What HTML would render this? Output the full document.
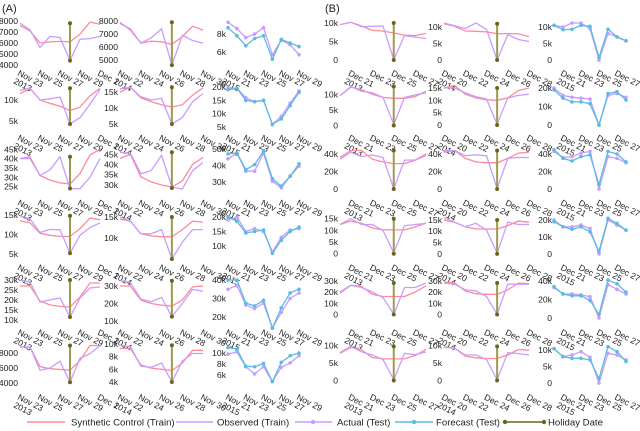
<!DOCTYPE html>
<html><head><meta charset="utf-8">
<style>
html,body{margin:0;padding:0;background:#fff;}
svg{display:block;font-family:"Liberation Sans","DejaVu Sans",sans-serif;}
</style></head>
<body>
<svg id="chart" width="640" height="431" viewBox="0 0 640 431" xmlns="http://www.w3.org/2000/svg">
<text x="2" y="12" font-size="11" fill="#222">(A)</text>
<text x="325" y="12" font-size="11" fill="#222">(B)</text>
<g id="plots"></g>
<g id="legend">
  <g>
    <line x1="27" y1="422" x2="65" y2="422" stroke="#ff8a9a" stroke-width="1.5"/>
    <text x="71" y="425.5" font-size="9.6" fill="#222">Synthetic Control (Train)</text>
  </g>
  <g>
    <line x1="176" y1="422" x2="213" y2="422" stroke="#c99cff" stroke-width="1.5"/>
    <text x="217" y="425.5" font-size="9.6" fill="#222">Observed (Train)</text>
  </g>
  <g>
    <line x1="295" y1="422" x2="332" y2="422" stroke="#c99cff" stroke-width="1.5"/>
    <circle cx="313" cy="422" r="2.2" fill="#c99cff"/>
    <text x="337" y="425.5" font-size="9.6" fill="#222">Actual (Test)</text>
  </g>
  <g>
    <line x1="395" y1="422" x2="433" y2="422" stroke="#5bbbe0" stroke-width="1.5"/>
    <circle cx="414" cy="422" r="2.2" fill="#5bbbe0"/>
    <text x="436" y="425.5" font-size="9.6" fill="#222">Forecast (Test)</text>
  </g>
  <g>
    <line x1="505" y1="422" x2="544" y2="422" stroke="#6b6420" stroke-width="1.5"/>
    <circle cx="505" cy="422" r="2.2" fill="#6b6420"/>
    <circle cx="544" cy="422" r="2.2" fill="#6b6420"/>
    <text x="548" y="425.5" font-size="9.6" fill="#222">Holiday Date</text>
  </g>
</g>
</svg>
<script>
// ---- data: 2 panels x 6 rows x 3 cols; index k = panel*18 + row*3 + col ----
const yLo = [
 3818,4460,4334, 2430,2560,3200, 19700,24300,21150, 3100,4430,4690, 6900,7030,15030, 2930,2580,3090,
 -1890,-2120,-2120, -2040,-2770,-3670, -8690,-8690,-8690, -3300,-3350,-4470, -10400,-10400,-8860, -3040,-3040,-2420];
const yHi = [
 8182,8154,9666, 13860,17560,21200, 45370,47800,50200, 15410,15860,21240, 30900,34450,40970, 9330,10160,11820,
 11080,12420,12420, 13360,16700,22270, 46170,46170,46170, 17270,17900,23900, 32300,32300,43030, 10760,10760,12120];
const yTicks = [
 [4000,5000,6000,7000,8000],[5000,6000,7000,8000],[6000,8000],
 [5000,10000],[5000,10000,15000],[5000,10000,15000,20000],
 [25000,30000,35000,40000,45000],[30000,35000,40000,45000],[30000,40000,50000],
 [5000,10000,15000],[10000,15000],[10000,15000,20000],
 [10000,15000,20000,25000,30000],[10000,20000,30000],[20000,30000,40000],
 [4000,6000,8000],[4000,6000,8000,10000],[6000,8000,10000],
 [0,5000,10000],[0,5000,10000],[0,5000,10000],
 [0,5000,10000],[0,5000,10000,15000],[0,10000,20000],
 [0,20000,40000],[0,20000,40000],[0,20000,40000],
 [0,5000,10000,15000],[0,5000,10000,15000],[0,10000,20000],
 [0,10000,20000,30000],[0,10000,20000,30000],[0,20000,40000],
 [0,5000,10000],[0,5000,10000],[0,5000,10000]];
// series1: synthetic control (cols 0,1) or actual (col 2); series2: observed (cols 0,1) or forecast (col 2)
const series1 = [
 [7600,7100,6000,6100,6150,6100,6800,7900,7700],[7900,7300,6300,6450,6400,6200,6800,7600,7300],[9300,8600,7600,8000,8700,5700,7300,6800,5700],
 [11500,12800,10000,9200,8500,7500,8300,11000,12800],[15000,16500,13200,12000,11000,10300,11000,14000,16300],[19500,19500,16000,14500,15000,6000,9000,14000,18500],
 [40000,41000,31000,28500,27000,26500,32000,42000,45000],[43000,45000,34000,31500,30000,29000,32000,40000,43500],[44000,47500,36500,36500,47500,30500,26500,33500,39500],
 [13500,13000,10300,9800,9500,9500,11500,14200,13800],[14500,14000,11000,10500,10300,10300,12000,14000,13800],[19000,20000,15000,16000,15000,8000,13000,15500,16000],
 [27000,27000,19500,17500,16800,16500,21500,28500,28500],[30000,30000,22000,20000,19000,18500,22000,29500,30000],[35000,37000,26500,24500,27500,14000,22500,30000,33000],
 [8800,8800,6200,5900,5800,5700,7000,9000,9000],[9300,9300,6700,6200,6000,5800,7000,9000,9000],[9800,10200,7500,6200,7500,4800,7400,8200,9500],
 [9500,10200,9200,8000,7800,7300,6700,6600,7200],[11000,10200,8800,8700,8500,8000,8000,7900,7100],[10500,10000,11200,11200,9500,0,8000,7000,5800],
 [9500,12300,11500,10000,9000,8700,8700,9300,11000],[15000,16000,12500,11000,10200,10000,11000,14000,15000],[20000,16000,15000,14500,14000,0,16000,17000,15000],
 [36000,44000,44000,34000,31000,29000,29000,33000,40000],[42000,44000,35000,31000,30000,30000,35000,41000,42000],[43000,36000,37000,41000,43000,0,37000,35000,30000],
 [12500,14000,13000,11000,10200,10200,10200,11500,13200],[15000,14000,12000,11000,11000,11000,12500,14500,14000],[20000,16000,16000,17000,15000,0,20000,17000,14000],
 [20000,26000,25000,18000,16000,16000,16000,20000,25500],[29000,28000,21000,18500,18000,18000,22000,28000,27500],[33000,26000,26000,25000,23000,0,36000,31000,26000],
 [7800,9500,8800,6600,6200,6200,6200,7200,8900],[9500,9300,7000,6500,6300,6300,7300,8900,8700],[10400,8000,8500,9500,7800,0,9000,8500,7000]];
const series2 = [
 [7800,7200,5600,6600,6500,4400,6350,6400,6600],[7800,7400,6300,6700,7400,4600,6900,6500,6300],[8700,7800,6700,7500,7800,5200,7400,7000,6600],
 [12300,12800,10000,10300,10700,4300,5800,9000,12500],[16000,16500,13500,12500,13000,5000,7000,12000,14500],[19000,19500,15000,14500,15000,6000,8000,13000,18000],
 [40000,40000,31000,34000,41000,24000,24000,30000,40000],[46000,45500,35500,37000,44500,29000,28000,37000,41000],[47000,47500,37500,40500,48500,32000,27500,33500,41000],
 [14800,14000,10500,11300,11200,5200,9800,11800,13000],[15000,14000,11000,11000,12000,5000,9000,12000,12000],[20000,18500,14500,15000,15500,7500,12000,15000,16500],
 [30000,29000,19000,20000,21000,11500,21000,26000,26500],[33000,32000,22500,21000,23500,12500,20000,28000,27000],[40000,40000,27500,26000,29000,14000,25000,33000,35000],
 [8800,8800,5700,6000,6900,4100,7300,7900,9000],[9800,9600,6500,6300,7000,4000,7300,8500,8500],[11000,10700,7600,7500,8100,4800,8300,9500,10000],
 [9500,10200,9000,9100,9200,100,6600,6200,5800],[11200,10400,9500,11200,9300,0,7700,6200,5600],[10500,9200,9300,10500,10200,800,9300,7000,5800],
 [9500,12500,11000,10500,9000,300,9000,9800,10500],[15000,15000,13000,11500,10500,300,11000,12000,12500],[19000,14500,12500,12500,11500,0,17000,18000,13500],
 [34000,42000,37000,39000,36000,500,33000,33000,38000],[44000,44000,38000,39000,38000,500,35000,36000,36000],[45000,35000,32000,37000,39000,5000,43000,40000,31000],
 [12500,15000,12500,12500,10000,300,12000,12500,13000],[16000,14000,12000,13500,10500,300,14000,13000,13000],[19000,16000,14500,16000,13000,1500,21000,18000,14000],
 [19000,26000,24000,20000,15000,300,24000,24000,28000],[28000,27000,22000,21000,16000,300,27000,27000,27000],[34000,26000,24000,24000,19000,4000,41000,37000,28000],
 [8000,9800,8200,7300,6000,200,7800,7400,8200],[9600,9200,7300,7300,6000,200,8000,7700,7300],[10400,8000,7500,7500,7000,1300,11000,9500,6500]];
// holiday line value extents (cols 0,1 only)
const holLo = [4400,4600,null, 4300,5000,null, 24000,28500,null, 5200,5000,null, 11500,12500,null, 4100,4000,null,
               0,0,null, 0,0,null, 0,0,null, 0,0,null, 0,0,null, 0,0,null];
const holHi = [7800,7900,null, 12800,16500,null, 41000,46000,null, 14800,15000,null, 30000,33000,null, 9000,9800,null,
               10000,11000,null, 12500,15000,null, 44000,44000,null, 15000,15000,null, 28000,28000,null, 9800,9800,null];
const holidayIndex = 5;
const xLabels = [
 ["Nov 23","","Nov 25","","Nov 27","","Nov 29","","Dec 1"],
 ["Nov 22","","Nov 24","","Nov 26","","Nov 28","","Nov 30"],
 ["Nov 21","","Nov 23","","Nov 25","","Nov 27","","Nov 29"],
 ["","Dec 21","","Dec 23","","Dec 25","","Dec 27",""],
 ["Dec 20","","Dec 22","","Dec 24","","Dec 26","","Dec 28"],
 ["","Dec 21","","Dec 23","","Dec 25","","Dec 27",""]];
const years = ["2013","2014","2015"];

// ---- layout ----
const colX = [[20,100],[120,203],[228,299],[340,426],[444,529],[554,626]];
const NS = "http://www.w3.org/2000/svg";
const root = document.getElementById('plots');
function mk(tag, attrs, parent){ const e=document.createElementNS(NS,tag); for(const k in attrs) e.setAttribute(k,attrs[k]); parent.appendChild(e); return e; }
function fmt(v, k){ const loose=(k===0||k===1||k===15); if(v===0) return "0"; if(loose && v<10000) return String(v); return (v/1000)+"k"; }
const C_PINK="#ff8a9a", C_PURP="#c99cff", C_BLUE="#5bbbe0", C_OLIVE="#9e9a50", C_DOT="#6b6420";
const FS = 8.6, ANG = 27;

for(let p=0;p<2;p++){
 for(let r=0;r<6;r++){
  for(let c=0;c<3;c++){
   const k=p*18+r*3+c;
   const [x0,x1]=colX[p*3+c];
   const top=19+64.8*r, bot=top+48;
   const xs=i=>x0+(x1-x0)*i/8;
   const ys=v=>bot-(v-yLo[k])/(yHi[k]-yLo[k])*(bot-top);
   const g=mk('g',{},root);
   
   
   yTicks[k].forEach(v=>{
     const t=mk('text',{x:x0-2,y:ys(v)+3,'font-size':FS,'text-anchor':'end',fill:'#222'},g);
     
     
     t.textContent=fmt(v,k);
   });
   const labs=xLabels[p*3+c];
   let first=-1;
   labs.forEach((s,i)=>{
     if(!s) return; if(first<0) first=i;
     const tx=xs(i)-3, ty=bot+8;
     const t=mk('text',{x:tx,y:ty,'font-size':FS,fill:'#222',transform:'rotate('+ANG+' '+tx+' '+ty+')'},g);
     
     
     t.textContent=s;
   });
   {
     const tx=xs(first)-7, ty=bot+16;
     const t=mk('text',{x:tx,y:ty,'font-size':FS,fill:'#222',transform:'rotate('+ANG+' '+tx+' '+ty+')'},g);
     
     
     t.textContent=years[c];
   }
   const pts=arr=>arr.map((v,i)=>xs(i).toFixed(1)+','+ys(v).toFixed(1)).join(' ');
   if(c<2){
     const l1=mk('polyline',{points:pts(series1[k]),fill:'none',stroke:C_PINK,'stroke-width':1.3},g);
     
     
     const l2=mk('polyline',{points:pts(series2[k]),fill:'none',stroke:C_PURP,'stroke-width':1.3},g);
     
     
     const hx=xs(holidayIndex);
     const hl=mk('line',{x1:hx,x2:hx,y1:ys(holLo[k]),y2:ys(holHi[k]),stroke:C_OLIVE,'stroke-width':2},g);
     
     
     [holLo[k],holHi[k]].forEach(v=>{
       const d=mk('circle',{cx:hx,cy:ys(v),r:2,fill:C_DOT},g);
       
       
     });
   } else {
     const l1=mk('polyline',{points:pts(series1[k]),fill:'none',stroke:C_PURP,'stroke-width':1.3},g);
     
     
     series1[k].forEach((v,i)=>{
       const d=mk('circle',{cx:xs(i),cy:ys(v),r:1.8,fill:C_PURP},g);
       
       
     });
     const l2=mk('polyline',{points:pts(series2[k]),fill:'none',stroke:C_BLUE,'stroke-width':1.3},g);
     
     
     series2[k].forEach((v,i)=>{
       const d=mk('circle',{cx:xs(i),cy:ys(v),r:1.8,fill:C_BLUE},g);
       
       
     });
   }
  }
 }
}
</script>
</body></html>
